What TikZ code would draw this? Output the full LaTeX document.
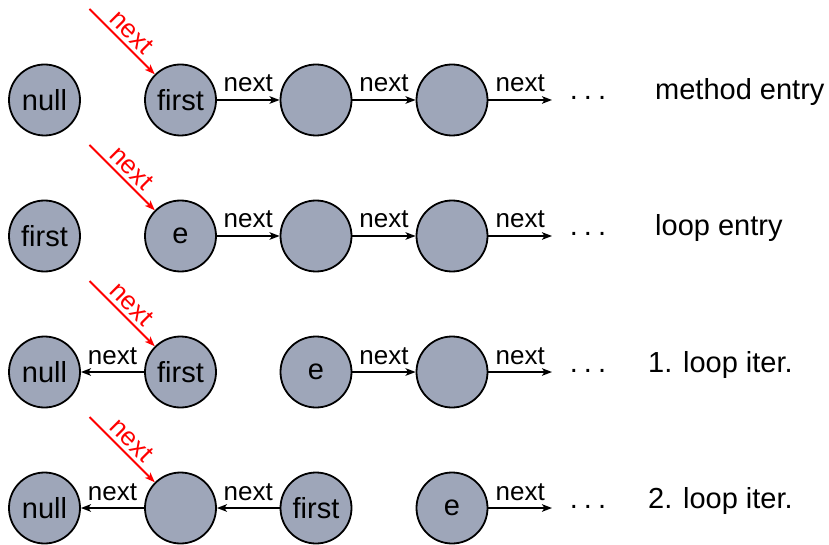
\documentclass[tikz,border=0pt]{standalone}
\usepackage{fontspec}
\setmainfont{Liberation Sans}
\usetikzlibrary{arrows.meta}
\definecolor{nodefill}{RGB}{158,166,185}
\begin{document}
\begin{tikzpicture}[x=1pt,y=-1pt,
  cell/.style={circle, draw, fill=nodefill, line width=1.8pt, minimum size=71pt, inner sep=0pt,
    font=\fontsize{29}{34}\selectfont},
  link/.style={line width=1.8pt, -{Stealth[length=10pt,width=7.5pt,inset=2.5pt]}},
  ptr/.style={link, draw=red},
  nxt/.style={font=\fontsize{26}{30}\selectfont, anchor=base, yshift=8pt, inner sep=0pt},
  rnxt/.style={font=\fontsize{26}{30}\selectfont, text=red, midway, sloped, above, inner sep=4pt},
  rowlbl/.style={font=\fontsize{29}{34}\selectfont, anchor=base west, inner sep=0pt},
  dots/.style={font=\fontsize{29}{34}\selectfont, anchor=base, inner sep=0pt}]
\useasboundingbox (0,0) rectangle (829,545);

% ---------- row 1: method entry
\node[cell] (a1) at (44.5,100) {null};
\node[cell] (a2) at (180.5,100) {first};
\node[cell] (a3) at (316,100) {};
\node[cell] (a4) at (452,100) {};
\coordinate (a5) at (552,100);
\coordinate (pa) at (89.5,9);
\draw[link] (a2) -- (a3) node[nxt, midway] {next};
\draw[link] (a3) -- (a4) node[nxt, midway] {next};
\draw[link] (a4) -- (a5) node[nxt, midway] {next};
\draw[ptr] (pa) -- (a2) node[rnxt] {next};
\node[dots] (da) at (588,100) {.\kern6pt.\kern6pt.};
\node[rowlbl] (la) at (655,100) {method entry};

% ---------- row 2: loop entry
\node[cell] (b1) at (44.5,236) {first};
\node[cell] (b2) at (180.5,236) {e};
\node[cell] (b3) at (316,236) {};
\node[cell] (b4) at (452,236) {};
\coordinate (b5) at (552,236);
\coordinate (pb) at (89.5,145);
\draw[link] (b2) -- (b3) node[nxt, midway] {next};
\draw[link] (b3) -- (b4) node[nxt, midway] {next};
\draw[link] (b4) -- (b5) node[nxt, midway] {next};
\draw[ptr] (pb) -- (b2) node[rnxt] {next};
\node[dots] (db) at (588,236) {.\kern6pt.\kern6pt.};
\node[rowlbl] (lb) at (655,236) {loop entry};

% ---------- row 3: 1. loop iter.
\node[cell] (c1) at (44.5,372) {null};
\node[cell] (c2) at (180.5,372) {first};
\node[cell] (c3) at (316,372) {e};
\node[cell] (c4) at (452,372) {};
\coordinate (c5) at (552,372);
\coordinate (pc) at (89.5,281);
\draw[link] (c2) -- (c1) node[nxt, midway] {next};
\draw[link] (c3) -- (c4) node[nxt, midway] {next};
\draw[link] (c4) -- (c5) node[nxt, midway] {next};
\draw[ptr] (pc) -- (c2) node[rnxt] {next};
\node[dots] (dc) at (588,372) {.\kern6pt.\kern6pt.};
\node[rowlbl] (lc) at (648,372) {1. loop iter.};

% ---------- row 4: 2. loop iter.
\node[cell] (e1) at (44.5,508) {null};
\node[cell] (e2) at (180.5,508) {};
\node[cell] (e3) at (316,508) {first};
\node[cell] (e4) at (452,508) {e};
\coordinate (e5) at (552,508);
\coordinate (pe) at (89.5,417);
\draw[link] (e2) -- (e1) node[nxt, midway] {next};
\draw[link] (e3) -- (e2) node[nxt, midway] {next};
\draw[link] (e4) -- (e5) node[nxt, midway] {next};
\draw[ptr] (pe) -- (e2) node[rnxt] {next};
\node[dots] (de) at (588,508) {.\kern6pt.\kern6pt.};
\node[rowlbl] (le) at (648,508) {2. loop iter.};
\end{tikzpicture}
\end{document}
